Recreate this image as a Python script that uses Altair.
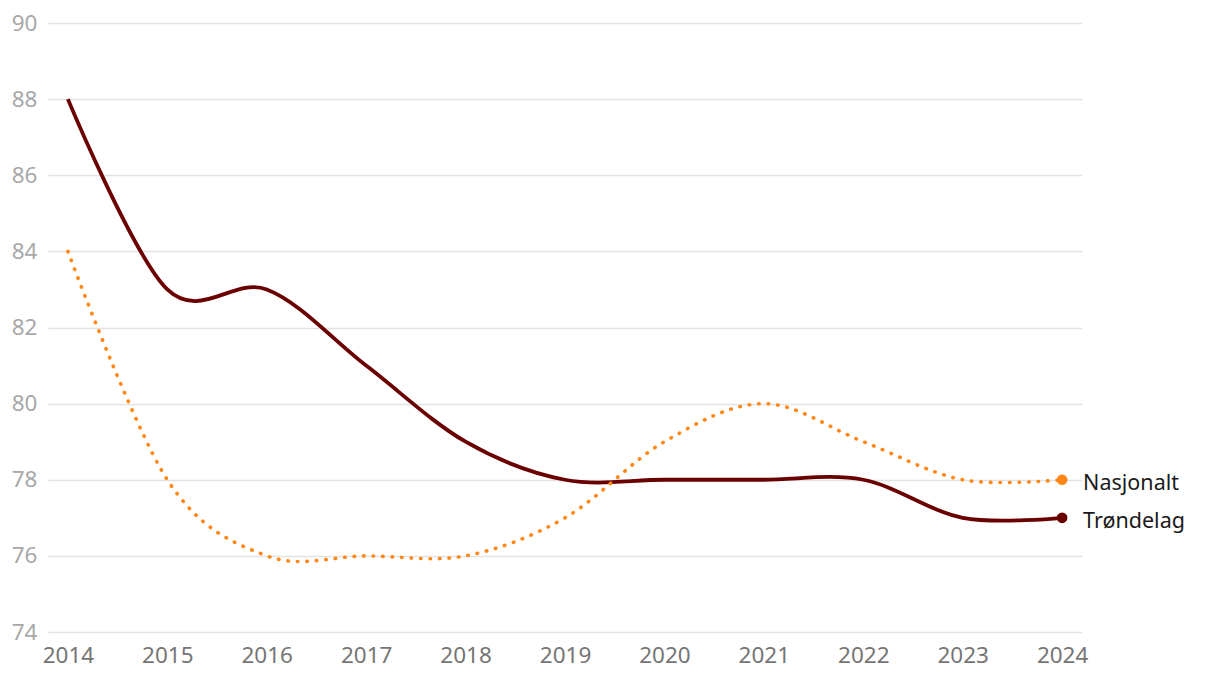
import altair as alt
import pandas as pd

years = [2014, 2015, 2016, 2017, 2018, 2019, 2020, 2021, 2022, 2023, 2024]
trondelag = [88, 83, 83, 81, 79, 78, 78, 78, 78, 77, 77]
nasjonalt = [84, 78, 76, 76, 76, 77, 79, 80, 79, 78, 78]
series_names = ["Trøndelag", "Nasjonalt"]
colors = ["#6b0000", "#ff8717"]

df_t = pd.DataFrame({"year": years, "value": trondelag, "series": series_names[0]})
df_n = pd.DataFrame({"year": years, "value": nasjonalt, "series": series_names[1]})
df_end = pd.DataFrame({
    "year": [years[-1], years[-1]],
    "value": [trondelag[-1], nasjonalt[-1]],
    "series": series_names,
})

FONT = "Noto Sans"
x = alt.X("year:Q", scale=alt.Scale(domain=[2013.8, 2024.2], nice=False, zero=False),
          axis=alt.Axis(values=years, format="d", grid=False, domain=False, ticks=False,
                        labelFontSize=22.5, labelColor="#757575", labelPadding=12,
                        labelFont=FONT, title=None))
y = alt.Y("value:Q", scale=alt.Scale(domain=[74, 90], nice=False, zero=False),
          axis=alt.Axis(values=list(range(74, 91, 2)), grid=True, gridColor="#e3e3e3",
                        gridWidth=1.5, domain=False, ticks=False, labelFontSize=22.5,
                        labelColor="#a8a8a8", labelPadding=11, labelFont=FONT, title=None))

line_t = alt.Chart(df_t).mark_line(color=colors[0], strokeWidth=3.8, interpolate="cardinal").encode(x=x, y=y)
line_n = alt.Chart(df_n).mark_line(color=colors[1], strokeWidth=3.6, interpolate="cardinal",
                                   strokeDash=[0.5, 9], strokeCap="round").encode(x=x, y=y)

color_scale = alt.Scale(domain=series_names, range=colors)
pts = alt.Chart(df_end).mark_circle(size=115, opacity=1).encode(
    x=x, y=y, color=alt.Color("series:N", scale=color_scale, legend=None))
labels = alt.Chart(df_end).mark_text(align="left", baseline="middle", dx=21, dy=4, fontSize=21.5,
                                     font=FONT, color="#1a1a1a").encode(x=x, y=y, text="series:N")

chart = alt.layer(line_t, line_n, pts, labels).properties(
    width=1034, height=609,
    autosize=alt.AutoSizeParams(type="none"),
    padding={"left": 40, "top": 15, "right": 130, "bottom": 50},
).configure_view(stroke=None)

chart.save("out.html", embed_options={"renderer": "svg", "actions": False})
